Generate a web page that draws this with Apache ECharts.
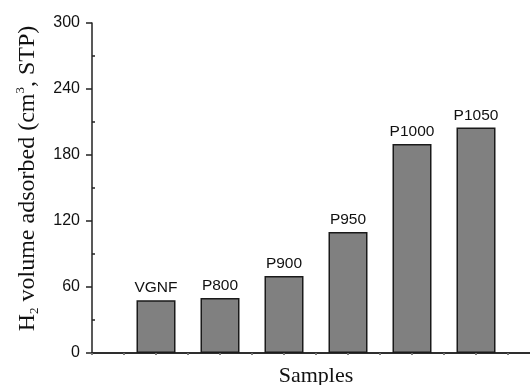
<!DOCTYPE html>
<html>
<head>
<meta charset="utf-8">
<script src="https://cdn.jsdelivr.net/npm/echarts@6/dist/echarts.min.js"></script>
<style>html,body{margin:0;padding:0;background:#fff;}#c{width:530px;height:385px;}</style>
</head>
<body>
<div id="c"></div>
<script>
const categories = ['VGNF', 'P800', 'P900', 'P950', 'P1000', 'P1050'];
const positions = [1, 2, 3, 4, 5, 6];
const values = [48, 50, 70, 110, 190, 205];
const yMin = 0, yMax = 300, yStep = 60;

const chart = echarts.init(document.getElementById('c'), null, {renderer: 'canvas'});
const data = categories.map((c, i) => ({name: c, value: [positions[i], values[i]]}));
const axisLine = {show: true, lineStyle: {color: '#222', width: 1.5}};
chart.setOption({
  animation: false,
  grid: {left: 92, right: -10, top: 23, bottom: 32, containLabel: false, outerBoundsMode: 'none'},
  xAxis: [{
    type: 'value', min: 0, max: 7, interval: 0.5, position: 'bottom',
    axisLine: axisLine,
    axisTick: {show: true, inside: false, length: 2, lineStyle: {color: '#222', width: 1.5}},
    axisLabel: {show: false}, splitLine: {show: false},
    name: 'Samples', nameLocation: 'middle', nameGap: 12,
    nameTextStyle: {fontFamily: 'Liberation Serif', fontSize: 22, color: '#111'}
  }, {
    type: 'value', min: 0, max: 7, interval: 0.5, position: 'top',
    axisLine: axisLine,
    axisTick: {show: true, inside: true, length: 2, lineStyle: {color: '#888', width: 1.5}},
    axisLabel: {show: false}, splitLine: {show: false}
  }],
  yAxis: [{
    type: 'value', min: yMin, max: yMax, interval: yStep, position: 'left',
    axisLine: axisLine,
    axisTick: {show: true, inside: false, length: 6, lineStyle: {color: '#222', width: 1.5}},
    axisLabel: {show: true, margin: 12, fontFamily: 'Liberation Sans', fontSize: 16, color: '#111'},
    splitLine: {show: false},
    name: '{n|H}{sub|2}{n| volume adsorbed (cm}{sup|3}{n|, STP)}',
    nameLocation: 'middle', nameRotate: 90, nameGap: 51,
    nameTextStyle: {
      padding: [0, 0, 0, 19],
      rich: {
        n: {fontFamily: 'Liberation Serif', fontSize: 24, color: '#111', lineHeight: 27, verticalAlign: 'middle'},
        sub: {fontFamily: 'Liberation Serif', fontSize: 13, color: '#111', lineHeight: 13, verticalAlign: 'bottom'},
        sup: {fontFamily: 'Liberation Serif', fontSize: 13, color: '#111', lineHeight: 13, verticalAlign: 'top'}
      }
    }
  }, {
    type: 'value', min: yMin, max: yMax, interval: yStep, position: 'left',
    axisLine: {show: false},
    axisTick: {show: false, inside: true},
    minorTick: {show: true, splitNumber: 2, length: 3, lineStyle: {color: '#222', width: 1.5}},
    axisLabel: {show: false}, splitLine: {show: false}
  }],
  series: [{
    type: 'bar', xAxisIndex: 0, yAxisIndex: 0,
    data: data, barWidth: 39,
    itemStyle: {color: '#808080', borderColor: '#1a1a1a', borderWidth: 1.5},
    label: {show: true, position: 'top', distance: 4, formatter: '{b}',
      fontFamily: 'Liberation Sans', fontSize: 15.5, color: '#111'}
  }]
});
</script>
</body>
</html>
